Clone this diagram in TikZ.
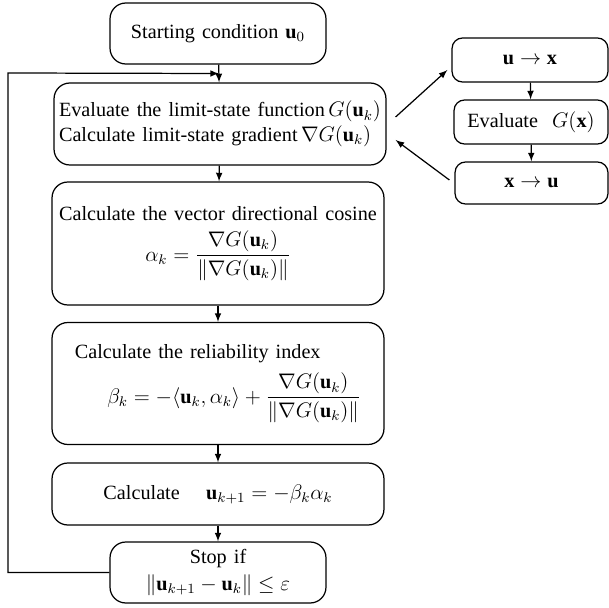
\documentclass[tikz,border=0pt]{standalone}
\usepackage{amsmath}
\usepackage{fontspec}
\setmainfont{Liberation Serif}[WordSpace=1.4]
\usetikzlibrary{calc}

\tikzset{
  flowbox/.style={draw, line width=0.7pt, rounded corners=9pt, align=center,
    inner sep=2pt, font=\fontsize{11.5}{14}\selectfont},
  sidebox/.style={flowbox, rounded corners=6pt},
  link/.style={-latex, line width=0.7pt}
}

\begin{document}
\begin{tikzpicture}[x=0.02cm, y=-0.02cm]
        \useasboundingbox (0,0) rectangle (609,608);

        % Colonna principale
        \node[flowbox, minimum width=4.32cm, minimum height=1.22cm] (start) at (218,33.5)
            {Starting condition $\mathbf{u}_0$};
        \node[flowbox, minimum width=6.64cm, minimum height=1.64cm, align=left] (eval) at (220,124)
            {Evaluate the limit-state function$\,G(\mathbf{u}_k)$\\
             Calculate limit-state gradient$\,\nabla G(\mathbf{u}_k)$};
        \node[flowbox, minimum width=6.64cm, minimum height=2.46cm] (cosine) at (218,243.5)
            {Calculate the vector directional cosine\\[5pt]
             $\alpha_k=\dfrac{\nabla G(\mathbf{u}_k)}{\|\nabla G(\mathbf{u}_k)\|}$};
        \node[flowbox, minimum width=6.64cm, minimum height=2.44cm, align=left] (index) at (218,383.5)
            {Calculate the reliability index\\[5pt]
             \hspace{1.6em}$\beta_k=-\langle\mathbf{u}_k,\alpha_k\rangle
             +\dfrac{\nabla G(\mathbf{u}_k)}{\|\nabla G(\mathbf{u}_k)\|}$};
        \node[flowbox, minimum width=6.64cm, minimum height=1.24cm] (update) at (218,494)
            {Calculate\hspace{15pt}$\mathbf{u}_{k+1}=-\beta_k\alpha_k$};
        \node[flowbox, minimum width=4.32cm, minimum height=1.22cm] (stop) at (218,572.5)
            {Stop if\\[1pt] $\|\mathbf{u}_{k+1}-\mathbf{u}_k\|\le\varepsilon$};

        % Colonna di destra
        \node[sidebox, minimum width=3.12cm, minimum height=0.88cm] (utox) at (530,60)
            {$\mathbf{u}\rightarrow\mathbf{x}$};
        \node[sidebox, minimum width=3.08cm, minimum height=0.88cm] (evalg) at (531,122)
            {Evaluate\ \ $G(\mathbf{x})$};
        \node[sidebox, minimum width=3.06cm, minimum height=0.84cm] (xtou) at (531.5,183)
            {$\mathbf{x}\rightarrow\mathbf{u}$};

        % Frecce verso il basso
        \draw[link] (start) -- (eval);
        \draw[link] (eval) -- (cosine);
        \draw[link] (cosine) -- (index);
        \draw[link] (index) -- (update);
        \draw[link] (update) -- (stop);
        \draw[link] (utox) -- (evalg);
        \draw[link] (evalg) -- (xtou);

        % Ciclo di ritorno
        \coordinate (corner) at (8,73);
        \coordinate (entry) at ($(start.south)!0.5!(eval.north)$);
        \draw[link] (stop.west) -| (corner) -- (entry);

        % Trasformazioni
        \draw[link] ([shift={(9,-7)}]eval.east) -- ([shift={(-4,10)}]utox.west);
        \draw[link] ([shift={(-5,-3)}]xtou.west) -- ([shift={(9,16)}]eval.east);
    \end{tikzpicture}
\end{document}
